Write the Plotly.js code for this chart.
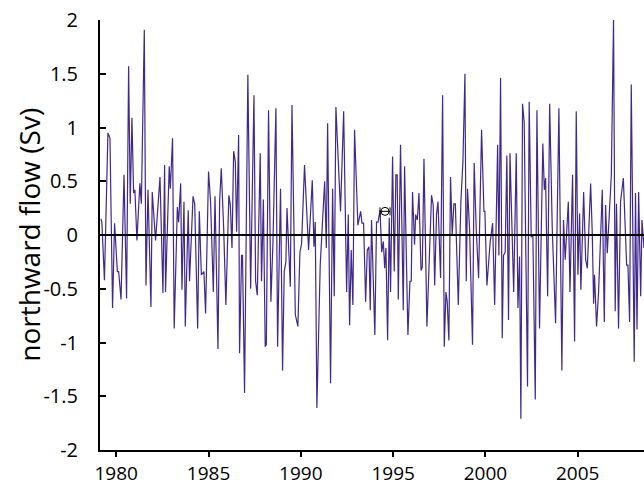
<!DOCTYPE html>
<html>
<head>
<meta charset="utf-8">
<script src="https://cdn.plot.ly/plotly-3.0.1.min.js"></script>
<style>html,body{margin:0;padding:0;background:#fff;}#chart{width:644px;height:487px;}</style>
</head>
<body>
<div id="chart"></div>
<script>
// decimal-year positions of the plotted samples
var dates = [
1979.17,1979.22,1979.36,1979.55,1979.66,1979.80,1979.91,1980.06,1980.13,1980.26,1980.42,1980.56,1980.67,1980.76,1980.85,1980.94,
1981.01,1981.12,1981.28,1981.36,1981.52,1981.61,1981.72,1981.88,1981.95,1982.13,1982.37,1982.53,1982.62,1982.67,1982.87,1982.93,
1983.05,1983.14,1983.31,1983.38,1983.49,1983.56,1983.67,1983.74,1983.90,1983.97,1984.16,1984.25,1984.41,1984.50,1984.61,1984.75,
1984.84,1985.00,1985.11,1985.26,1985.35,1985.51,1985.60,1985.69,1985.82,1985.94,1986.10,1986.18,1986.27,1986.36,1986.45,1986.52,
1986.63,1986.68,1986.79,1986.84,1986.95,1987.13,1987.28,1987.46,1987.55,1987.64,1987.80,1987.87,1987.97,1988.07,1988.13,1988.25,
1988.38,1988.49,1988.65,1988.74,1988.90,1989.01,1989.10,1989.19,1989.25,1989.43,1989.52,1989.70,1989.84,1989.95,1990.04,1990.20,
1990.42,1990.62,1990.71,1990.78,1990.87,1991.05,1991.29,1991.38,1991.45,1991.61,1991.72,1991.81,1991.90,1992.15,1992.32,1992.48,
1992.57,1992.64,1992.73,1992.82,1992.91,1993.09,1993.24,1993.31,1993.40,1993.51,1993.60,1993.69,1993.76,1993.83,1994.01,1994.10,
1994.18,1994.29,1994.38,1994.47,1994.54,1994.61,1994.70,1994.79,1994.86,1994.97,1995.06,1995.15,1995.22,1995.28,1995.40,1995.55,
1995.62,1995.80,1995.91,1995.98,1996.05,1996.16,1996.22,1996.31,1996.40,1996.51,1996.58,1996.67,1996.83,1996.94,1997.08,1997.17,
1997.25,1997.35,1997.43,1997.57,1997.68,1997.77,1997.86,1997.93,1998.02,1998.11,1998.20,1998.29,1998.37,1998.53,1998.67,1998.78,
1998.89,1998.96,1999.03,1999.14,1999.30,1999.39,1999.50,1999.63,1999.79,1999.92,1999.97,2000.08,2000.26,2000.39,2000.50,2000.66,
2000.73,2000.82,2000.91,2000.98,2001.07,2001.16,2001.25,2001.33,2001.53,2001.67,2001.76,2001.85,2001.92,2002.01,2002.10,2002.28,
2002.37,2002.48,2002.57,2002.70,2002.79,2002.93,2003.11,2003.19,2003.26,2003.37,2003.48,2003.62,2003.80,2003.98,2004.14,2004.23,
2004.32,2004.49,2004.58,2004.72,2004.83,2004.92,2005.01,2005.10,2005.17,2005.32,2005.43,2005.52,2005.70,2005.79,2005.86,2005.91,
2006.02,2006.13,2006.33,2006.44,2006.51,2006.60,2006.71,2006.82,2006.94,2007.03,2007.10,2007.21,2007.32,2007.47,2007.65,2007.72,
2007.81,2007.90,2008.06,2008.13,2008.21,2008.30,2008.41,2008.48,2008.59,2008.65
];
// northward flow (Sv)
var flow = [
0.15,0.12,-0.42,0.95,0.90,-0.68,0.11,-0.34,-0.34,-0.60,0.56,-0.59,1.57,0.29,1.09,0.39,
0.42,-0.05,0.48,0.29,1.91,-0.47,0.42,-0.67,0.40,-0.05,0.54,-0.54,0.65,-0.53,0.64,0.43,
0.90,-0.87,0.26,0.12,0.48,-0.51,0.31,-0.85,0.23,-0.43,0.36,0.29,-0.87,0.22,-0.37,-0.34,
-0.73,0.59,0.31,-0.53,0.36,-1.06,0.31,0.62,0.06,-0.65,0.37,0.28,-0.12,0.78,0.68,0.03,
0.93,-1.10,-0.19,-0.19,-1.47,1.49,-0.50,1.30,-0.43,-0.56,0.76,-0.43,0.33,-1.04,-1.02,1.16,
-0.62,-0.06,1.18,-1.04,0.43,-1.26,-0.34,-0.25,0.25,-0.48,1.21,-0.74,-0.85,-0.16,-0.08,0.65,
-0.14,0.51,-0.11,0.12,-1.61,-0.28,0.50,-0.12,1.04,-1.38,0.43,-0.57,1.19,0.22,1.15,-0.53,
0.19,-0.84,-0.14,-0.65,0.98,0.09,0.22,0.11,0.11,-0.62,-0.14,-0.11,-0.70,0.14,-0.93,0.12,
0.12,0.23,-0.16,-0.06,-0.31,-0.12,-0.98,0.16,-0.53,0.73,-0.34,0.56,0.56,-0.60,0.84,-0.70,
0.64,-0.93,-0.43,-0.43,0.40,-0.09,0.19,0.14,0.39,-0.33,-0.30,0.71,-0.85,-0.22,0.37,0.28,
-0.47,0.19,0.31,-0.40,1.30,-1.04,-0.53,-0.62,-0.98,0.54,0.00,0.29,0.29,-0.65,0.31,0.68,
1.50,-0.43,0.43,0.06,-1.02,0.67,0.06,-0.40,0.98,0.22,0.22,-0.47,-0.06,0.11,-0.65,0.84,
-0.19,1.46,-0.96,-0.19,-0.16,0.74,-0.79,0.76,-0.53,0.76,-0.68,-0.20,-1.71,1.22,1.05,-1.41,
1.24,-0.02,0.00,-1.53,1.16,-0.87,0.85,0.42,0.53,-0.57,1.22,0.06,-0.82,1.18,-1.26,0.14,
-0.23,0.31,-0.53,0.56,-0.99,1.15,-0.37,0.20,-0.51,0.40,-0.23,-0.31,0.48,0.00,-0.64,-0.37,
-0.85,-0.53,0.42,-0.81,0.28,-0.17,0.20,0.56,2.00,-0.71,0.29,-0.87,0.31,0.53,-0.28,-0.28,
-0.81,1.40,-1.18,0.39,-0.88,0.40,-0.57,0.14,-0.12,0.10
];
// single open-circle marker near 1994.5
var markDate = [1994.56];
var markFlow = [0.22];
var markErrX = [0.27];

var xTickVals = [1980, 1985, 1990, 1995, 2000, 2005];
var xTickText = ['1980', '1985', '1990', '1995', '2000', '2005'];
var yTickVals = [-2, -1.5, -1, -0.5, 0, 0.5, 1, 1.5, 2];
var yTickText = ['-2', '-1.5', '-1', '-0.5', '0', '0.5', '1', '1.5', '2'];
var yTitle = 'northward flow (Sv)';

var traces = [
  {x: dates, y: flow, type: 'scatter', mode: 'lines',
   line: {color: '#40288c', width: 1.2}, hoverinfo: 'skip'},
  {x: markDate, y: markFlow, type: 'scatter', mode: 'markers',
   marker: {symbol: 'circle-open', size: 8, color: 'black', line: {width: 1, color: 'black'}},
   error_x: {type: 'data', array: markErrX, visible: true, color: 'black', thickness: 1, width: 4},
   hoverinfo: 'skip'}
];

var layout = {
  width: 644, height: 487,
  margin: {l: 100, r: 0, t: 20, b: 37, pad: 0},
  paper_bgcolor: '#ffffff', plot_bgcolor: '#ffffff',
  showlegend: false,
  font: {family: '"Open Sans", sans-serif', size: 19, color: '#000'},
  xaxis: {
    range: [1979.12, 2008.59], tickmode: 'array', tickvals: xTickVals, ticktext: xTickText,
    ticks: 'outside', ticklen: 5, tickwidth: 2, tickcolor: '#000',
    showline: true, linecolor: '#000', linewidth: 2, showgrid: false, zeroline: false,
    tickfont: {size: 19, color: '#000'}
  },
  yaxis: {
    range: [-2, 2], tickmode: 'array', tickvals: yTickVals, ticktext: yTickText,
    ticks: 'inside', ticklen: 6, tickwidth: 2, tickcolor: '#000', ticklabelstandoff: 16,
    showline: true, linecolor: '#000', linewidth: 2, showgrid: false, zeroline: false,
    tickfont: {size: 20, color: '#000'}
  },
  annotations: [
    {text: yTitle, xref: 'paper', yref: 'paper', x: -0.131, y: 0.5,
     xanchor: 'center', yanchor: 'middle', textangle: -90, showarrow: false,
     font: {size: 28, color: '#000'}}
  ],
  shapes: [
    {type: 'line', xref: 'paper', x0: 0, x1: 1, yref: 'y', y0: 0, y1: 0,
     line: {color: '#000', width: 2}, layer: 'above'}
  ]
};

Plotly.newPlot('chart', traces, layout, {staticPlot: true, displayModeBar: false});
</script>
</body>
</html>
